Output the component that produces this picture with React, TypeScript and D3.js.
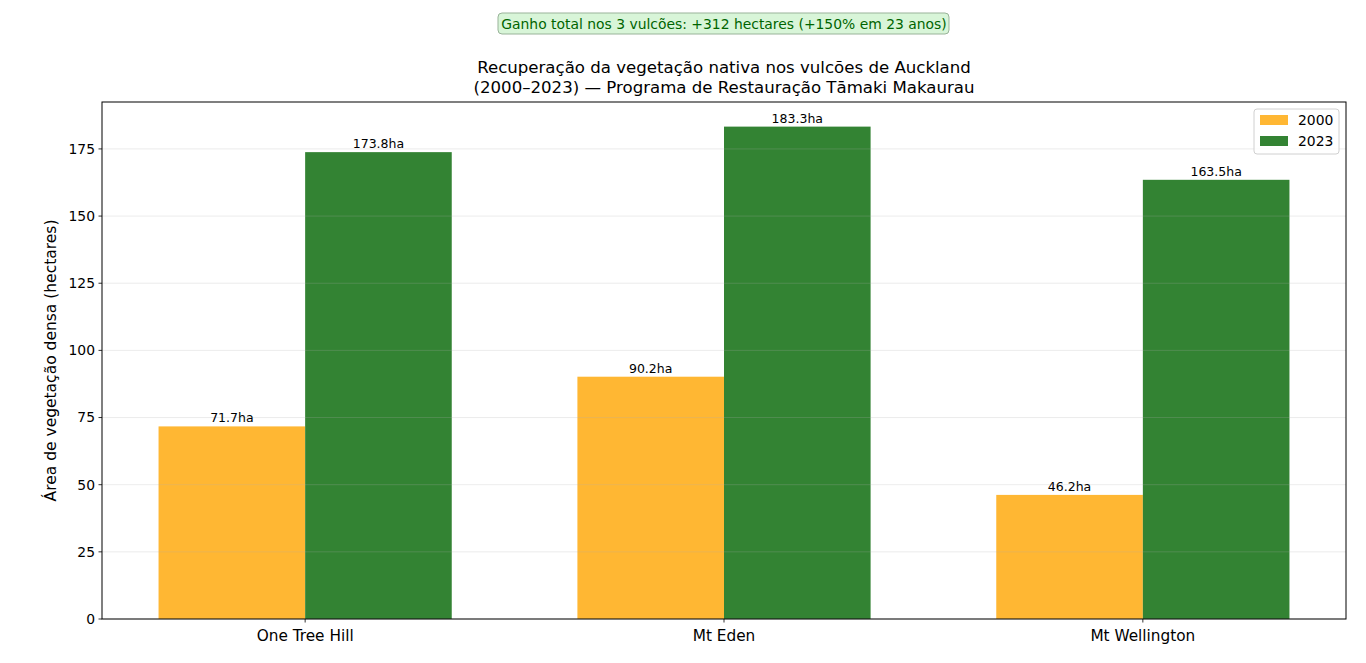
import { useEffect } from 'react';
import * as d3 from 'd3';

// Chart data
const volcanoes = ['One Tree Hill', 'Mt Eden', 'Mt Wellington'];
const area2000 = [71.7, 90.2, 46.2];
const area2023 = [173.8, 183.3, 163.5];
const yTicks = [0, 25, 50, 75, 100, 125, 150, 175];
const seriesNames = ['2000', '2023'];
const seriesColors = ['#ffb733', '#338333'];

const FONT = '"DejaVu Sans", sans-serif';

export default function App() {
  useEffect(() => {
    document.body.style.margin = '0';
  }, []);

  const width = 1366;
  const height = 663;
  const margin = { top: 102, right: 20, bottom: 44, left: 102 };
  const innerW = width - margin.left - margin.right;
  const innerH = height - margin.top - margin.bottom;

  const barW = 0.35;
  const x = d3
    .scaleLinear()
    .domain([-barW - 0.135, volcanoes.length - 1 + barW + 0.135])
    .range([0, innerW]);
  const y = d3
    .scaleLinear()
    .domain([0, d3.max(area2023)! * 1.05])
    .range([innerH, 0]);

  const series = [area2000, area2023];
  const bw = x(barW) - x(0);

  return (
    <svg width={width} height={height} style={{ display: 'block' }} fontFamily={FONT}>
      <rect width={width} height={height} fill="#fff" />

      {/* annotation box */}
      <g>
        <rect x={498} y={13} width={451} height={21} rx={4} fill="#d8f5d8" stroke="#99b399" strokeWidth={1} />
        <text x={724} y={28.5} textAnchor="middle" fontSize={13.9} fill="#006400">
          Ganho total nos 3 vulcões: +312 hectares (+150% em 23 anos)
        </text>
      </g>

      {/* title */}
      <text x={margin.left + innerW / 2} y={73} textAnchor="middle" fontSize={16.6} fill="#000">
        Recuperação da vegetação nativa nos vulcões de Auckland
      </text>
      <text x={margin.left + innerW / 2} y={93} textAnchor="middle" fontSize={16.6} fill="#000">
        (2000–2023) — Programa de Restauração Tāmaki Makaurau
      </text>

      <g transform={`translate(${margin.left},${margin.top})`}>
        {/* bars */}
        {series.map((vals, si) =>
          vals.map((v, i) => (
            <rect
              key={`${si}-${i}`}
              x={si === 0 ? x(i) - bw : x(i)}
              y={y(v)}
              width={bw}
              height={innerH - y(v)}
              fill={seriesColors[si]}
            />
          ))
        )}

        {/* grid over bars */}
        {yTicks.map((t) => (
          <line key={t} x1={0} x2={innerW} y1={y(t)} y2={y(t)} stroke="#b0b0b0" strokeOpacity={0.3} strokeWidth={0.8} />
        ))}

        {/* value labels */}
        {series.map((vals, si) =>
          vals.map((v, i) => (
            <text
              key={`l${si}-${i}`}
              x={si === 0 ? x(i) - bw / 2 : x(i) + bw / 2}
              y={y(v) - 4}
              textAnchor="middle"
              fontSize={12.5}
              fill="#000"
            >
              {v.toFixed(1)}ha
            </text>
          ))
        )}

        {/* axes frame */}
        <rect x={0} y={0} width={innerW} height={innerH} fill="none" stroke="#000" strokeWidth={1} />

        {/* y ticks */}
        {yTicks.map((t) => (
          <g key={`yt${t}`} transform={`translate(0,${y(t)})`}>
            <line x1={-3.5} x2={0} stroke="#000" strokeWidth={0.8} />
            <text x={-7} dy="0.35em" textAnchor="end" fontSize={13.9} fill="#000">
              {t}
            </text>
          </g>
        ))}

        {/* x ticks */}
        {volcanoes.map((c, i) => (
          <g key={c} transform={`translate(${x(i)},${innerH})`}>
            <line y1={0} y2={3.5} stroke="#000" strokeWidth={0.8} />
            <text y={22} textAnchor="middle" fontSize={15.3} fill="#000">
              {c}
            </text>
          </g>
        ))}

        {/* y label */}
        <text
          transform={`translate(${-51},${innerH / 2}) rotate(-90)`}
          textAnchor="middle"
          dy="0.35em"
          fontSize={15.5}
          fill="#000"
        >
          Área de vegetação densa (hectares)
        </text>

        {/* legend */}
        <g transform={`translate(${innerW - 92},7)`}>
          <rect x={0} y={0} width={85} height={45} rx={3} fill="#fff" fillOpacity={0.8} stroke="#d0d0d0" />
          {seriesNames.map((s, i) => (
            <g key={s} transform={`translate(6,${11 + i * 21})`}>
              <rect x={0} y={-5} width={28} height={10} fill={seriesColors[i]} />
              <text x={38} dy="0.35em" fontSize={13.9} fill="#000">
                {s}
              </text>
            </g>
          ))}
        </g>
      </g>
    </svg>
  );
}
